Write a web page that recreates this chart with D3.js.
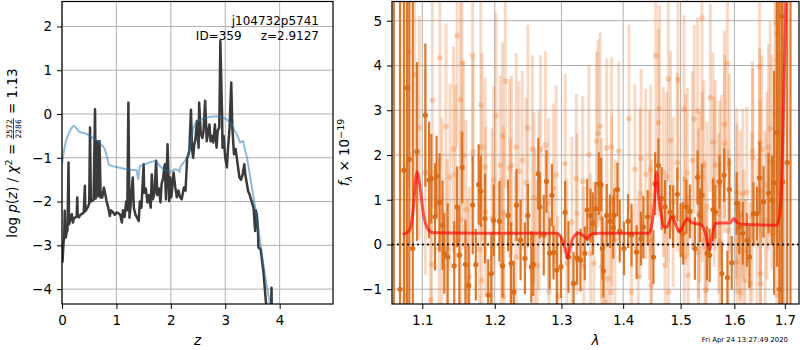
<!DOCTYPE html>
<html><head><meta charset="utf-8">
<script src="https://cdn.jsdelivr.net/npm/d3@7"></script>
<style>
body{margin:0;background:#fff}
svg{display:block}
text{font-family:"DejaVu Sans",sans-serif;white-space:pre}
</style>
</head><body>
<svg id="c" width="800" height="350"></svg>
<script>
// ---------------- DATA ----------------
// left panel: [z, log p(z)]
const pdfLine = [[0.00,-3.40],[0.01,-3.36],[0.03,-2.90],[0.04,-2.82],[0.05,-2.21],[0.06,-2.75],[0.07,-2.82],[0.09,-2.65],[0.10,-2.67],[0.12,-1.11],[0.13,-2.52],[0.15,-2.42],[0.18,-2.29],[0.20,-2.48],[0.22,-2.38],[0.25,-2.36],[0.27,-2.33],[0.28,-1.91],[0.29,-2.34],[0.31,-2.36],[0.34,-2.30],[0.37,-2.28],[0.40,-2.25],[0.42,-1.64],[0.43,-2.22],[0.45,-2.18],[0.47,-2.14],[0.50,-2.05],[0.515,-0.31],[0.53,-2.00],[0.55,-1.99],[0.58,-1.96],[0.607,0.11],[0.62,-1.93],[0.65,-0.62],[0.665,-1.88],[0.69,-0.62],[0.71,-1.91],[0.74,-1.91],[0.77,-1.68],[0.79,-1.80],[0.82,-2.00],[0.85,-2.14],[0.88,-2.33],[0.90,-2.20],[0.94,-2.25],[0.97,-2.30],[1.00,-2.25],[1.04,-2.27],[1.07,-2.30],[1.10,-2.48],[1.12,-2.20],[1.15,-2.35],[1.18,-2.00],[1.20,-2.20],[1.22,0.26],[1.24,-2.37],[1.26,-2.10],[1.30,-1.45],[1.32,-2.14],[1.35,-2.30],[1.38,-2.37],[1.41,-2.44],[1.43,-2.00],[1.46,-2.14],[1.50,-1.15],[1.51,-1.80],[1.54,-1.70],[1.57,-2.02],[1.60,-1.85],[1.63,-2.14],[1.65,-1.38],[1.67,-1.95],[1.70,-1.80],[1.73,-1.07],[1.75,-1.85],[1.78,-1.70],[1.81,-2.02],[1.83,-1.60],[1.86,-1.45],[1.88,-1.22],[1.89,-1.15],[1.91,-1.95],[1.94,-0.69],[1.95,-1.15],[1.97,-1.99],[1.99,-1.45],[2.01,-1.90],[2.05,-1.34],[2.08,-1.66],[2.11,-1.90],[2.14,-1.75],[2.17,-1.90],[2.20,-1.95],[2.24,-1.68],[2.27,-1.75],[2.30,-1.00],[2.32,-0.95],[2.34,-0.84],[2.35,-0.54],[2.37,0.10],[2.39,-0.80],[2.41,-1.00],[2.43,-0.70],[2.45,-0.60],[2.48,-0.16],[2.51,-0.77],[2.52,0.26],[2.55,-0.45],[2.58,-0.55],[2.60,-0.40],[2.63,0.30],[2.66,-0.62],[2.68,-0.45],[2.71,-0.24],[2.73,-0.62],[2.75,-0.50],[2.78,-0.65],[2.81,-0.24],[2.84,-0.77],[2.86,-0.40],[2.89,-0.30],[2.91,1.67],[2.94,0.07],[2.95,-0.77],[2.97,-0.50],[3.00,-1.00],[3.03,-1.22],[3.05,-0.80],[3.08,-0.30],[3.11,0.72],[3.13,-0.30],[3.16,-0.92],[3.19,-0.80],[3.22,-1.07],[3.26,-1.45],[3.29,-1.50],[3.32,-1.38],[3.35,-1.15],[3.37,-1.40],[3.40,-1.61],[3.42,-1.76],[3.45,-1.85],[3.49,-2.02],[3.52,-2.14],[3.55,-2.67],[3.56,-2.20],[3.58,-2.29],[3.60,-2.60],[3.61,-3.05],[3.65,-3.09],[3.70,-3.58],[3.75,-4.34],[3.80,-5.00],[3.84,-5.00],[3.85,-3.97],[3.86,-5.00]];
const chi2Line = [[0.00,-1.14],[0.02,-0.96],[0.07,-0.62],[0.12,-0.46],[0.17,-0.33],[0.21,-0.27],[0.24,-0.29],[0.27,-0.33],[0.31,-0.40],[0.36,-0.43],[0.42,-0.44],[0.47,-0.47],[0.51,-0.50],[0.56,-0.54],[0.61,-0.58],[0.66,-0.62],[0.70,-0.68],[0.75,-0.73],[0.79,-0.81],[0.83,-1.00],[0.86,-1.16],[0.93,-1.19],[1.00,-1.21],[1.10,-1.24],[1.19,-1.26],[1.28,-1.28],[1.37,-1.28],[1.40,-1.49],[1.43,-1.19],[1.50,-1.16],[1.56,-1.13],[1.63,-1.10],[1.71,-1.07],[1.76,-1.12],[1.80,-1.19],[1.89,-1.29],[1.99,-1.32],[2.08,-1.26],[2.13,-1.28],[2.16,-1.32],[2.18,-1.19],[2.26,-1.07],[2.32,-0.92],[2.35,-0.75],[2.38,-0.54],[2.41,-0.35],[2.44,-0.24],[2.48,-0.16],[2.57,-0.11],[2.66,-0.08],[2.75,-0.06],[2.84,-0.05],[2.91,-0.06],[2.97,-0.08],[3.03,-0.13],[3.09,-0.20],[3.14,-0.29],[3.18,-0.39],[3.24,-0.54],[3.27,-0.65],[3.33,-0.62],[3.36,-0.80],[3.40,-1.00],[3.46,-1.45],[3.52,-1.91],[3.58,-2.37],[3.64,-2.90],[3.70,-3.43],[3.76,-3.89],[3.82,-4.34],[3.88,-4.80]];
const zTicks = [0,1,2,3,4];
const logpTicks = [-4,-3,-2,-1,0,1,2];

// right panel: [wavelength, flux, error]
const specDark = [[1.063,6.0,8],[1.071,-1.0,7],[1.076,1.66,6],[1.080,3.5,6],[1.083,1.90,6],[1.0875,-0.09,6],[1.093,2.08,2.0],[1.104,2.89,1.6],[1.109,1.44,1.3],[1.112,1.47,1.0],[1.117,0.62,1.2],[1.119,1.53,0.9],[1.123,0.94,1.1],[1.127,0.43,1.0],[1.1295,-0.20,0.9],[1.134,-0.28,1.2],[1.143,-0.48,1.0],[1.147,0.84,0.9],[1.150,-0.24,1.1],[1.154,1.72,0.8],[1.1585,-0.45,1.0],[1.163,-0.92,0.9],[1.1686,0.88,1.1],[1.173,-0.45,0.8],[1.177,1.34,0.9],[1.180,1.19,0.8],[1.186,0.58,1.0],[1.1906,-1.13,0.8],[1.195,-0.65,0.9],[1.1985,0.54,0.8],[1.2067,0.52,0.9],[1.2112,-0.48,0.7],[1.2193,0.65,0.8],[1.2238,-0.42,0.9],[1.2277,-1.06,0.7],[1.2318,0.88,0.8],[1.2378,0.10,0.9],[1.2442,-0.31,0.8],[1.2487,0.65,0.7],[1.2538,-0.50,0.8],[1.2568,-0.45,0.7],[1.2643,1.58,0.8],[1.2667,0.84,0.7],[1.2727,0.21,0.9],[1.2768,1.41,0.7],[1.2817,-0.20,0.8],[1.2853,1.10,0.7],[1.2877,-0.18,0.6],[1.2928,-0.57,0.8],[1.2994,-0.50,0.7],[1.3057,0.72,0.7],[1.3110,-0.28,0.8],[1.3191,-0.87,0.7],[1.3246,-0.30,0.6],[1.3300,-0.35,0.7],[1.3370,-0.20,0.6],[1.3408,0.77,0.7],[1.3462,0.65,0.6],[1.3499,0.47,0.7],[1.3543,0.80,0.6],[1.3597,1.36,0.7],[1.3635,1.34,0.6],[1.3656,-0.09,0.7],[1.3673,-0.59,0.6],[1.3726,0.65,0.7],[1.3781,0.52,0.6],[1.3835,0.38,0.7],[1.3851,0.65,0.6],[1.3904,1.23,0.6],[1.3943,0.30,0.7],[1.4014,-0.09,0.6],[1.4083,0.52,0.6],[1.4141,0.21,0.7],[1.4228,-0.17,0.6],[1.4304,0.13,0.6],[1.4344,0.39,0.7],[1.4419,0.62,0.6],[1.4518,-0.28,0.6],[1.4548,1.36,0.7],[1.4605,1.77,0.6],[1.4662,1.03,0.7],[1.4722,0.84,0.6],[1.4809,0.73,0.6],[1.4866,0.62,0.7],[1.4941,1.12,0.6],[1.5000,0.32,0.6],[1.5043,0.25,0.7],[1.5104,0.84,0.6],[1.5167,0.74,0.6],[1.5260,-0.09,0.7],[1.5309,1.50,0.6],[1.5353,0.65,0.6],[1.5390,1.10,0.7],[1.5483,-0.20,0.6],[1.5532,-0.24,0.6],[1.5595,0.78,0.7],[1.5638,0.73,0.6],[1.5718,1.40,0.6],[1.5762,-0.65,0.7],[1.5805,1.55,0.6],[1.5867,-0.74,0.6],[1.5904,1.23,0.7],[1.5949,-0.41,0.6],[1.6044,0.92,0.7],[1.6095,0.38,0.6],[1.6162,0.25,0.7],[1.6242,0.10,0.6],[1.6293,-0.28,0.7],[1.6372,0.69,0.7],[1.6440,0.69,0.6],[1.6491,1.49,0.8],[1.6570,0.95,0.8],[1.6669,1.15,0.9],[1.6737,0.99,1.0],[1.6782,1.38,2.5],[1.684,2.5,3.0],[1.6887,-1.00,7],[1.6935,5.10,7],[1.6955,1.40,7],[1.7048,1.83,7],[1.7115,-2.0,8]];
const specLight = [[1.0778,-1.15,3.0],[1.0822,4.29,3.0],[1.0900,3.80,2.7],[1.0961,2.61,2.5],[1.1041,1.61,2.3],[1.1110,-1.24,2.0],[1.1124,-0.45,2.1],[1.1134,3.22,2.4],[1.1226,-0.09,2.0],[1.1234,4.17,2.5],[1.1262,0.73,2.1],[1.1317,2.64,2.3],[1.1334,-0.09,2.0],[1.1372,1.50,2.1],[1.1419,2.13,2.3],[1.1447,1.57,2.0],[1.1469,4.67,2.5],[1.1516,3.24,2.4],[1.1520,0.56,2.0],[1.1538,4.05,2.4],[1.1557,1.99,2.1],[1.1593,0.78,2.0],[1.1617,-0.87,1.9],[1.1640,-0.72,2.0],[1.1686,4.22,2.4],[1.1690,2.07,2.1],[1.1782,-0.11,2.0],[1.1800,3.12,2.3],[1.1814,-0.80,1.9],[1.1817,2.18,2.1],[1.1861,1.73,2.0],[1.1869,0.73,1.9],[1.1961,0.59,2.0],[1.1985,1.44,2.1],[1.2018,2.88,2.3],[1.2078,1.77,2.0],[1.2093,-0.42,1.9],[1.2112,2.42,2.1],[1.2127,0.73,1.9],[1.2130,-1.17,1.9],[1.2153,3.65,2.4],[1.2217,1.70,2.0],[1.2228,0.47,1.9],[1.2243,1.77,2.0],[1.2307,-0.28,1.9],[1.2313,2.18,2.1],[1.2352,1.64,2.0],[1.2403,1.88,2.0],[1.2463,1.38,1.9],[1.2487,2.61,2.3],[1.2553,2.13,2.1],[1.2577,1.05,1.9],[1.2592,0.25,1.9],[1.2628,-0.46,1.9],[1.2652,0.99,2.0],[1.2678,2.13,2.1],[1.2753,2.22,2.1],[1.2802,0.92,1.9],[1.2805,-1.06,1.8],[1.2877,1.25,1.9],[1.2918,1.56,2.0],[1.2943,-1.17,1.8],[1.3057,1.81,2.0],[1.3084,-0.42,1.9],[1.3165,0.50,1.9],[1.3235,1.47,1.9],[1.3246,0.69,1.8],[1.3337,1.41,1.9],[1.3353,-0.50,1.8],[1.3434,2.01,2.0],[1.3462,-0.20,1.8],[1.3516,-0.42,1.8],[1.3559,2.31,2.0],[1.3584,2.48,2.1],[1.3619,2.64,2.1],[1.3640,0.58,1.8],[1.3645,-0.50,1.8],[1.3696,-1.28,1.8],[1.3726,2.16,2.0],[1.3748,-0.76,1.8],[1.3797,-1.07,1.8],[1.3807,2.18,2.0],[1.3810,0.97,1.9],[1.3863,0.10,1.8],[1.3927,2.09,2.0],[1.4096,2.81,2.1],[1.4141,-1.06,1.8],[1.4200,1.68,1.9],[1.4257,-0.72,1.8],[1.4287,1.14,1.9],[1.4304,1.92,2.0],[1.4384,1.57,1.9],[1.4449,1.10,1.9],[1.4471,1.67,1.9],[1.4478,0.10,1.8],[1.4480,-0.91,1.8],[1.4558,4.22,2.4],[1.4605,2.72,2.1],[1.4623,3.04,2.3],[1.4692,1.62,1.9],[1.4722,-0.46,1.8],[1.4750,1.51,1.9],[1.4779,3.70,2.3],[1.4782,-1.06,1.8],[1.4819,2.33,2.0],[1.4866,0.95,1.9],[1.4941,1.83,2.0],[1.4953,3.68,2.3],[1.5061,3.02,2.1],[1.5065,-0.28,1.8],[1.5086,1.45,1.9],[1.5123,1.60,1.9],[1.5135,-0.69,1.8],[1.5216,1.88,2.0],[1.5247,2.80,2.1],[1.5309,2.98,2.1],[1.5322,0.69,1.9],[1.5325,-0.17,1.8],[1.5353,1.06,1.9],[1.5390,5.06,2.5],[1.5395,1.51,1.9],[1.5420,1.77,1.9],[1.5446,0.10,1.8],[1.5464,-1.02,1.8],[1.5483,0.84,1.9],[1.5545,3.28,2.1],[1.5595,2.29,2.0],[1.5619,1.40,1.9],[1.5638,1.77,1.9],[1.5699,0.69,1.8],[1.5718,1.32,1.9],[1.5725,0.06,1.8],[1.5750,1.44,1.9],[1.5811,2.68,2.1],[1.5815,2.25,2.0],[1.5866,4.05,2.4],[1.5885,0.32,1.8],[1.5904,1.82,2.0],[1.6044,1.15,1.9],[1.6048,0.80,1.9],[1.6050,-0.39,1.8],[1.6109,0.65,1.9],[1.6112,-1.06,1.8],[1.6162,1.14,1.9],[1.6174,-0.13,1.8],[1.6208,-0.80,1.8],[1.6242,1.17,1.9],[1.6307,-0.87,1.8],[1.6341,0.62,1.9],[1.6352,2.09,2.0],[1.6360,1.94,2.0],[1.6440,0.02,1.9],[1.6491,3.98,2.4],[1.6495,2.28,2.1],[1.6505,1.21,2.0],[1.6508,-0.65,1.9],[1.6510,-0.87,1.9],[1.6539,2.13,2.1],[1.6604,0.54,2.0],[1.6638,1.32,2.1],[1.6669,2.18,2.3],[1.6703,2.59,2.4],[1.6737,1.84,2.4],[1.6802,2.92,2.7],[1.6822,4.93,3.0],[1.6836,-1.13,3.0],[1.6848,4.71,3.0],[1.6850,4.11,3.0],[1.6901,0.80,3.5],[1.6915,2.42,3.5]];
// model: [wavelength, flux]
const modelLine = [[1.0744,0.22],[1.0834,0.32],[1.0876,0.69],[1.0929,1.62],[1.0970,1.29],[1.1014,0.69],[1.1083,0.32],[1.1152,0.26],[1.2000,0.25],[1.2928,0.25],[1.3003,0.13],[1.3057,-0.09],[1.3094,-0.31],[1.3138,-0.05],[1.3191,0.17],[1.3272,0.25],[1.3353,0.19],[1.3408,0.13],[1.3462,0.22],[1.3570,0.25],[1.4437,0.25],[1.4496,0.47],[1.4536,0.99],[1.4570,1.62],[1.4610,1.06],[1.4652,0.69],[1.4697,0.39],[1.4755,0.39],[1.4842,0.62],[1.4917,0.43],[1.4976,0.28],[1.5048,0.43],[1.5123,0.58],[1.5186,0.50],[1.5266,0.47],[1.5359,0.45],[1.5433,0.32],[1.5483,0.10],[1.5532,-0.13],[1.5576,0.17],[1.5638,0.47],[1.5731,0.48],[1.5917,0.48],[1.5991,0.58],[1.6044,0.50],[1.6143,0.45],[1.6836,0.43],[1.6887,0.62],[1.6935,1.36],[1.6967,2.85],[1.7000,4.34],[1.7021,5.45],[1.7060,7.0]];
const lamTicks = [1.1,1.2,1.3,1.4,1.5,1.6,1.7];
const fluxTicks = [-1,0,1,2,3,4,5];
const annot1 = "j104732p5741";
const annot2 = "ID=359     z=2.9127";
const stamp = "Fri Apr 24 13:27:49 2020";

// ---------------- DRAW ----------------
const svg = d3.select("#c");
const TFS = 13.5;
const GRID = "#b0b0b0";
const DARK = "#d96a16", LIGHT = "#e8782a";

const L = {x0:62, x1:333, y0:1.5, y1:304};
const R = {x0:392, x1:799, y0:1.5, y1:304};
const xL = d3.scaleLinear([0,4.98],[L.x0,L.x1]);
const yL = d3.scaleLinear([-4.34,2.57],[L.y1,L.y0]);
const xR = d3.scaleLog([1.0607,1.7291],[R.x0,R.x1]);
const yR = d3.scaleLinear([-1.33,5.43],[R.y1,R.y0]);

const defs = svg.append("defs");
[["clipL",L],["clipR",R]].forEach(([id,P])=>{
  defs.append("clipPath").attr("id",id).append("rect")
    .attr("x",P.x0).attr("y",P.y0).attr("width",P.x1-P.x0).attr("height",P.y1-P.y0);
});

function grid(P, xs, ys, xv, yv){
  const g = svg.append("g");
  g.selectAll(".gx").data(xv).join("line")
    .attr("x1",d=>xs(d)).attr("x2",d=>xs(d)).attr("y1",P.y0).attr("y2",P.y1)
    .attr("stroke",GRID).attr("stroke-width",1);
  g.selectAll(".gy").data(yv).join("line")
    .attr("y1",d=>ys(d)).attr("y2",d=>ys(d)).attr("x1",P.x0).attr("x2",P.x1)
    .attr("stroke",GRID).attr("stroke-width",1);
}
grid(L,xL,yL,zTicks,logpTicks);
grid(R,xR,yR,lamTicks,fluxTicks);

// left panel lines
const gL = svg.append("g").attr("clip-path","url(#clipL)");
const lineL = d3.line().x(d=>xL(d[0])).y(d=>yL(d[1]));
gL.append("path").datum(pdfLine).attr("d",lineL).attr("fill","none")
  .attr("stroke","#3a3a3a").attr("stroke-width",2.5).attr("stroke-linejoin","round");
gL.append("path").datum(chi2Line).attr("d",lineL).attr("fill","none")
  .attr("stroke","#1f77b4").attr("stroke-opacity",0.5).attr("stroke-width",2).attr("stroke-linejoin","round");

// right panel spectrum
const gR = svg.append("g").attr("clip-path","url(#clipR)");
const light = gR.append("g");
light.selectAll("line").data(specLight).join("line")
  .attr("x1",d=>xR(d[0])).attr("x2",d=>xR(d[0]))
  .attr("y1",d=>yR(d[1]-d[2])).attr("y2",d=>yR(d[1]+d[2]))
  .attr("stroke",LIGHT).attr("stroke-opacity",0.28).attr("stroke-width",3);
light.selectAll("circle").data(specLight).join("circle")
  .attr("cx",d=>xR(d[0])).attr("cy",d=>yR(d[1])).attr("r",2.8)
  .attr("fill",LIGHT).attr("fill-opacity",0.3);
const dark = gR.append("g");
dark.selectAll("line").data(specDark).join("line")
  .attr("x1",d=>xR(d[0])).attr("x2",d=>xR(d[0]))
  .attr("y1",d=>yR(d[1]-d[2])).attr("y2",d=>yR(d[1]+d[2]))
  .attr("stroke",DARK).attr("stroke-opacity",0.9).attr("stroke-width",2.2);
dark.selectAll("circle").data(specDark).join("circle")
  .attr("cx",d=>xR(d[0])).attr("cy",d=>yR(d[1])).attr("r",2.6)
  .attr("fill",DARK).attr("fill-opacity",0.95);
gR.append("path").datum(modelLine)
  .attr("d",d3.line().curve(d3.curveMonotoneX).x(d=>xR(d[0])).y(d=>yR(d[1])))
  .attr("fill","none").attr("stroke","red").attr("stroke-opacity",0.65).attr("stroke-width",3);
gR.append("line").attr("x1",R.x0).attr("x2",R.x1).attr("y1",yR(0)).attr("y2",yR(0))
  .attr("stroke","#000").attr("stroke-width",2).attr("stroke-dasharray","2,3").attr("stroke-opacity",0.85);

// axes
function axes(P, xs, ys, xv, yv, xf, yf){
  const ax = svg.append("g").attr("transform",`translate(0,${P.y1})`)
    .call(d3.axisBottom(xs).tickValues(xv).tickFormat(xf).tickSize(5).tickPadding(6.5));
  const ay = svg.append("g").attr("transform",`translate(${P.x0},0)`)
    .call(d3.axisLeft(ys).tickValues(yv).tickFormat(yf).tickSize(5).tickPadding(5));
  [ax,ay].forEach(a=>{
    a.select(".domain").remove();
    a.selectAll("text").attr("font-size",TFS).attr("font-family","DejaVu Sans").attr("fill","#000");
    a.selectAll("line").attr("stroke","#000").attr("stroke-width",1);
  });
  svg.append("rect").attr("x",P.x0).attr("y",P.y0).attr("width",P.x1-P.x0).attr("height",P.y1-P.y0)
    .attr("fill","none").attr("stroke","#000").attr("stroke-width",1.2);
}
axes(L,xL,yL,zTicks,logpTicks,d3.format("d"),d3.format("d"));
axes(R,xR,yR,lamTicks,fluxTicks,d3.format(".1f"),d3.format("d"));

// math label helper (laid out horizontally, then placed)
function mathText(parent, pieces, size){
  const g = parent.append("g");
  let x = 0;
  pieces.forEach(p=>{
    if(p.frac){
      const n = g.append("text").attr("font-size",p.size).text(p.num);
      const d = g.append("text").attr("font-size",p.size).text(p.den);
      const wn = n.node().getComputedTextLength(), wd = d.node().getComputedTextLength();
      const w = Math.max(wn,wd);
      n.attr("x",x+1+(w-wn)/2).attr("y",p.numY);
      d.attr("x",x+1+(w-wd)/2).attr("y",p.denY);
      g.append("line").attr("x1",x).attr("x2",x+w+2).attr("y1",p.barY).attr("y2",p.barY)
        .attr("stroke","#000").attr("stroke-width",0.8);
      x += w+2;
    } else {
      const t = g.append("text").attr("x",x).attr("y",p.dy||0)
        .attr("font-size",p.size||size).attr("font-style",p.it?"italic":"normal")
        .attr("xml:space","preserve").text(p.t);
      x += t.node().getComputedTextLength();
    }
  });
  g.attr("transform",`translate(${-x/2},0)`);
  return g;
}

// left y label
const ylabL = svg.append("g").attr("transform","translate(17,153) rotate(-90)");
mathText(ylabL,[
  {t:"log "},{t:"p",it:true},{t:"("},{t:"z",it:true},{t:")"},{t:" / "},
  {t:"χ",it:true},{t:"2",size:9.5,dy:-5.5},{t:" = "},
  {frac:true,num:"2572",den:"2286",size:7.5,numY:-5.5,barY:-3.6,denY:4.4},
  {t:" = 1.13"}
],TFS);

// right y label
const ylabR = svg.append("g").attr("transform","translate(349,152.5) rotate(-90)");
mathText(ylabR,[
  {t:"f",it:true},{t:"λ",it:true,size:9.5,dy:3},{t:" × 10"},{t:"−19",size:9.5,dy:-5.5}
],TFS);

// x labels
svg.append("text").attr("x",(L.x0+L.x1)/2).attr("y",345).attr("text-anchor","middle")
  .attr("font-size",TFS).attr("font-style","italic").text("z");
svg.append("text").attr("x",(R.x0+R.x1)/2).attr("y",345).attr("text-anchor","middle")
  .attr("font-size",TFS).attr("font-style","italic").text("λ");

// annotation
svg.append("text").attr("x",319).attr("y",24.5).attr("text-anchor","end")
  .attr("font-size",12).text(annot1);
svg.append("text").attr("x",319).attr("y",39.5).attr("text-anchor","end")
  .attr("font-size",12).attr("xml:space","preserve").text(annot2);
// timestamp
svg.append("text").attr("x",788).attr("y",341.5).attr("text-anchor","end")
  .attr("font-size",6.9).text(stamp);
</script>
</body></html>
